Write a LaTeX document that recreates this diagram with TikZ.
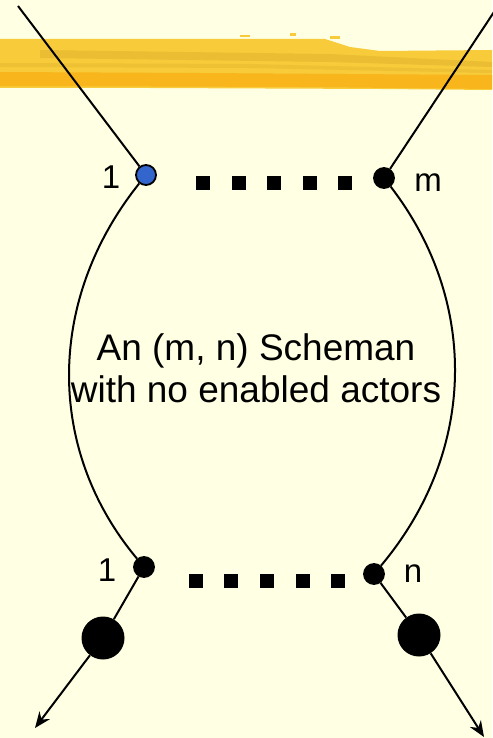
\documentclass[tikz,border=0pt]{standalone}
\usepackage{fontspec}
\setmainfont{Liberation Sans}
\usetikzlibrary{arrows.meta}
\definecolor{paper}{HTML}{FFFFE3}
\definecolor{brush}{HTML}{F7CB3A}
\definecolor{brushdark}{HTML}{E0B02C}
\definecolor{brushorange}{HTML}{F8B51C}
\definecolor{portblue}{HTML}{3366CC}
\tikzset{
  port/.style={circle, draw=black, line width=1.8pt, fill=black, minimum size=20pt, inner sep=0pt},
  bigport/.style={circle, fill=black, minimum size=43pt, inner sep=0pt},
  wire/.style={line width=2pt},
  label/.style={font=\fontsize{33}{38}\selectfont, inner sep=0pt},
}
\begin{document}
\begin{tikzpicture}[x=1pt, y=-1pt]
  \fill[paper] (0,0) rectangle (492,738);
  \useasboundingbox (0,0) rectangle (492,738);
  \fill[brush] (0,39) -- (325,39) -- (350,47) -- (380,51) -- (492,50) -- (492,90) -- (380,89) -- (150,88) -- (0,88) -- cycle;
  \fill[brushdark, opacity=0.5] (40,50) -- (330,54) -- (492,62) -- (492,67) -- (330,62) -- (40,58) -- cycle;
  \fill[brushdark, opacity=0.35] (0,63) -- (250,64) -- (492,70) -- (492,73) -- (250,68) -- (0,67) -- cycle;
  \fill[brushorange] (0,72) -- (200,73) -- (492,75) -- (492,89) -- (300,87) -- (0,86) -- cycle;
  \fill[brush] (240,35) rectangle (250,37);
  \fill[brush] (290,33) rectangle (296,36);
  \fill[brush] (330,36) rectangle (340,39);
  \node[port, fill=portblue] (intop) at (146,175) {};
  \node[port] (m) at (384,178) {};
  \node[port] (inbot) at (144,567) {};
  \node[port] (n) at (374,574) {};
  \node[bigport] (outl) at (103,638) {};
  \node[bigport] (outr) at (419,635) {};
  \node[label] (onetop) at (111,177) {1};
  \node[label] (mlabel) at (428,183) {m};
  \node[label] (onebot) at (107,570) {1};
  \node[label] (nlabel) at (413,574) {n};
  \node[align=center, font=\fontsize{37}{42}\selectfont] (caption) at (256,368) {An (m, n) Scheman\\with no enabled actors};
  \coordinate (inl) at (18,6);
  \coordinate (inr) at (494,12);
  \coordinate (endl) at (35,728);
  \coordinate (endr) at (484,737);
  \draw[wire] (inl) -- (intop);
  \draw[wire] (inr) -- (m);
  \draw[wire] (intop) .. controls (46,300) and (46,450) .. (inbot);
  \draw[wire] (m) .. controls (478,300) and (478,450) .. (n);
  \draw[wire, -{Stealth[length=16pt, width=13pt]}] (inbot) -- (outl) -- (endl);
  \draw[wire, -{Stealth[length=16pt, width=13pt]}] (n) -- (outr) -- (endr);
  \foreach \x in {203,239,274,310,345} \fill (\x-7,176) rectangle (\x+7,190);
  \foreach \x in {196,231,267,303,338} \fill (\x-7,574) rectangle (\x+7,588);
\end{tikzpicture}
\end{document}
